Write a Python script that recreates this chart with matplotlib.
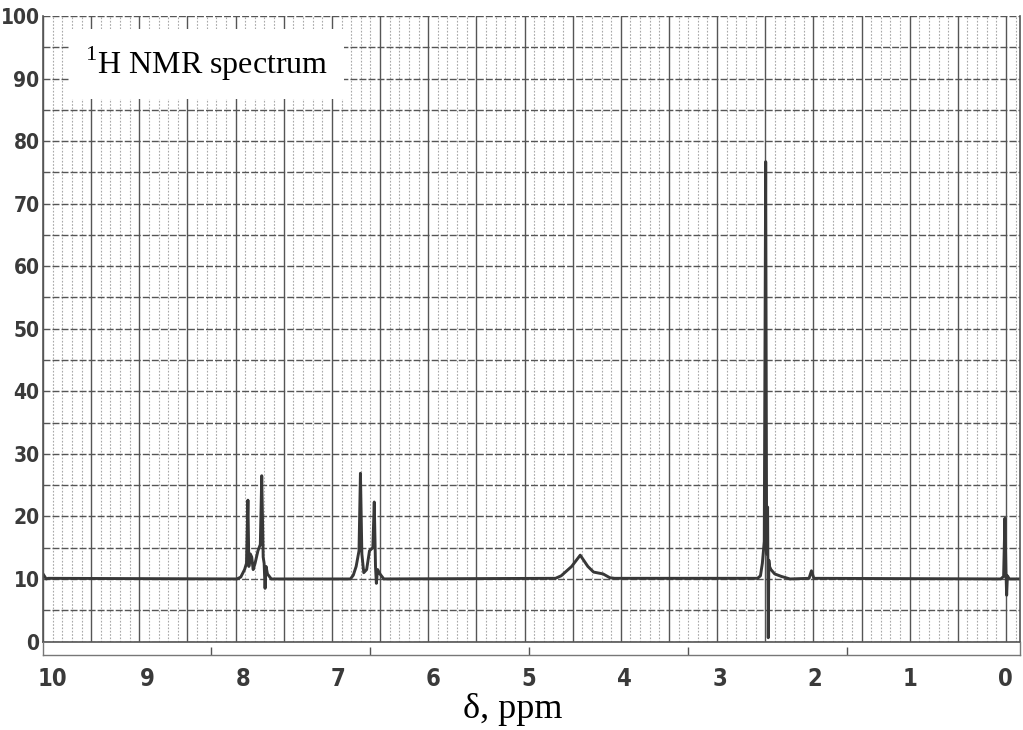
import matplotlib
matplotlib.use("Agg")
import matplotlib.pyplot as plt
from matplotlib import font_manager
from matplotlib.font_manager import FontProperties
from matplotlib.ticker import MultipleLocator

# ── spectrum trace: δ (ppm) vs. recorder intensity (0-100 chart units) ──
ppm = [10.094, 10.06, 10.04,
       8.06, 8.02, 7.98, 7.96, 7.945, 7.935, 7.92, 7.905, 7.89, 7.87, 7.84,
       7.815, 7.80, 7.785, 7.775, 7.765, 7.755, 7.74, 7.70,
       6.87, 6.84, 6.81, 6.78, 6.765, 6.75, 6.73, 6.70, 6.67, 6.635, 6.62,
       6.607, 6.598, 6.585, 6.56, 6.52,
       4.72, 4.66, 4.55, 4.46, 4.38, 4.32, 4.22, 4.15, 4.10,
       2.60, 2.57, 2.55, 2.53, 2.515, 2.505, 2.495, 2.488, 2.482, 2.475,
       2.46, 2.42, 2.35, 2.26,
       2.06, 2.035, 2.01,
       0.05, 0.02, 0.006, -0.004, -0.012, -0.02, -0.04, -0.152]
intensity = [10.8, 10.0, 10.1,
             10.0, 10.3, 11.5, 12.5, 22.6, 12.0, 14.0, 13.5, 11.5, 12.5, 14.5,
             15.5, 26.5, 13.5, 12.5, 8.5, 12.0, 10.8, 10.0,
             10.0, 10.6, 12.0, 14.5, 26.9, 14.0, 11.0, 11.5, 14.5, 15.0, 22.3,
             12.0, 9.3, 11.5, 10.8, 10.0,
             10.1, 10.5, 12.0, 13.8, 12.0, 11.1, 10.8, 10.2, 10.1,
             10.1, 10.5, 12.5, 16.0, 76.7, 14.0, 21.5, 0.6, 13.0, 12.0,
             11.5, 10.8, 10.4, 10.0,
             10.1, 11.3, 10.1,
             10.0, 10.4, 19.7, 11.5, 7.4, 10.5, 10.0, 10.0]

PPM_TICKS = [10, 9, 8, 7, 6, 5, 4, 3, 2, 1, 0]
Y_TICKS = [0, 10, 20, 30, 40, 50, 60, 70, 80, 90, 100]
HZ_TICKS = [100, 200, 300, 400, 500]   # sweep marks on the strip, 60 MHz
SPEC_MHZ = 60.0

TITLE = r"$^{\mathrm{1}}$H NMR spectrum"
XLABEL = "δ, ppm"

# ── fonts: a narrow bold face for the printed scale numbers ──
def _weight(w):
    return w if isinstance(w, int) else font_manager.weight_dict.get(w, 400)

def _stretch(s):
    return s if isinstance(s, int) else font_manager.stretch_dict.get(s, 500)

narrow = [f for f in font_manager.fontManager.ttflist
          if _stretch(f.stretch) < 500
          or "narrow" in f.name.lower() or "condensed" in f.name.lower()]
narrow.sort(key=lambda f: (abs(_weight(f.weight) - 700), _stretch(f.stretch)))
if narrow:
    X_NUM = FontProperties(fname=narrow[0].fname, size=17)
    Y_NUM = FontProperties(fname=narrow[0].fname, size=15)
else:
    X_NUM = FontProperties(family="DejaVu Sans", weight="bold", size=13)
    Y_NUM = FontProperties(family="DejaVu Sans", weight="bold", size=12)

SERIF = "Liberation Serif"
plt.rcParams["mathtext.fontset"] = "custom"
plt.rcParams["mathtext.rm"] = SERIF

INK = "#383838"
GRID_DARK = "#555555"
GRID_LIGHT = "#a8a8a8"

fig = plt.figure(figsize=(10.23, 7.30), dpi=100)
POS = [43 / 1023, 88.5 / 730, 977 / 1023, 625.5 / 730]

# chart paper underneath (columns of 5 minor divisions, rows every 5 units)
paper = fig.add_axes(POS)
paper.set_xlim(0, 977 / 48.15)
paper.set_ylim(0, 100)
paper.xaxis.set_major_locator(MultipleLocator(1))
paper.xaxis.set_minor_locator(MultipleLocator(0.2))
paper.yaxis.set_major_locator(MultipleLocator(5))
paper.grid(which="major", axis="x", color=GRID_DARK, lw=1.0, ls="-")
paper.grid(which="minor", axis="x", color=GRID_LIGHT, lw=0.8, ls=(0, (1.5, 1.5)))
paper.grid(which="major", axis="y", color=GRID_DARK, lw=1.0, ls=(0, (5, 1.5)))
paper.tick_params(which="both", length=0, labelbottom=False, labelleft=False)
for s in paper.spines.values():
    s.set_visible(False)

# spectrum axes on top
ax = fig.add_axes(POS, facecolor="none")
ax.plot(ppm, intensity, color=INK, lw=2.1, solid_joinstyle="round")
ax.set_xlim(10.094, -0.152)
ax.set_ylim(0, 100)
ax.set_xticks(PPM_TICKS)
ax.set_xticklabels([str(t) for t in PPM_TICKS])
ax.set_yticks(Y_TICKS)
ax.set_yticklabels([str(t) for t in Y_TICKS])
ax.tick_params(length=0, labelcolor="#3a3a3a")
ax.tick_params(axis="x", pad=18)
ax.tick_params(axis="y", pad=2.5)
for lab in ax.get_xticklabels():
    lab.set_fontproperties(X_NUM)
for lab in ax.get_yticklabels():
    lab.set_fontproperties(Y_NUM)
ax.spines["top"].set_visible(False)
for side in ("left", "right", "bottom"):
    ax.spines[side].set_color(GRID_DARK)
    ax.spines[side].set_linewidth(1.2)

ax.text(0.043, 0.923, TITLE, transform=ax.transAxes, fontsize=23,
        family=SERIF, ha="left", va="center",
        bbox=dict(facecolor="white", edgecolor="none", boxstyle="square,pad=0.5"))

ax.set_xlabel(XLABEL, fontsize=26, family=SERIF, va="center")
ax.xaxis.set_label_coords(0.481, -0.108)

# Hz strip below the paper
strip = fig.add_axes([43 / 1023, 75 / 730, 977 / 1023, 13.5 / 730], facecolor="none")
strip.set_xlim(ax.get_xlim())
strip.set_ylim(0, 1)
strip.set_xticks([hz / SPEC_MHZ for hz in HZ_TICKS])
strip.tick_params(axis="x", direction="in", length=6, width=1.0,
                  color=GRID_DARK, labelbottom=False)
strip.set_yticks([])
strip.spines["top"].set_visible(False)
strip.spines["bottom"].set_linestyle((0, (2, 1)))
for side in ("left", "right", "bottom"):
    strip.spines[side].set_color("#777777")
    strip.spines[side].set_linewidth(1.0)

fig.savefig("out.png", dpi=100, facecolor="white")
